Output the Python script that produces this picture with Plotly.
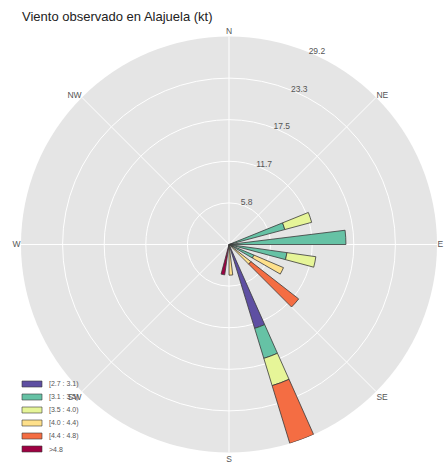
import numpy as np
import plotly.graph_objects as go

# Wind directions (degrees) that have observations
directions = [75, 90, 105, 120, 135, 163, 180, 195]

# Frequency stacked per speed bin (None = no data in that sector)
bin_labels = ["[2.7 : 3.1)", "[3.1 : 3.5)", "[3.5 : 4.0)", "[4.0 : 4.4)", "[4.4 : 4.8)", ">4.8"]
bin_colors = ["#5e4fa2", "#66c2a5", "#e6f598", "#fee08b", "#f46d43", "#9e0142"]

speed_27_31 = [None, None, None, None, None, 12.3, None, None]
speed_31_35 = [8.1, 16.4, 8.2, 3.8, None, 4.4, None, None]
speed_35_40 = [3.9, None, 4.1, None, None, 4.0, None, None]
speed_40_44 = [None, None, None, 4.5, 3.9, None, 4.3, None]
speed_44_48 = [None, None, None, None, 8.5, 8.47, None, None]
speed_gt_48 = [None, None, None, None, None, None, None, 4.3]

series = [speed_27_31, speed_31_35, speed_35_40, speed_40_44, speed_44_48, speed_gt_48]

compass_angles = [0, 45, 90, 135, 180, 225, 270, 315]
compass_labels = ["N", "NE", "E", "SE", "S", "SW", "W", "NW"]

title_text = "Viento observado en Alajuela (kt)"

W, H = 446, 466
BAR_W = 7.0
RING_LABEL_THETA = 25.0   # bearing along which the ring values are written

# radial extent = largest stacked total; five evenly spaced rings
totals = np.nansum(np.array([[np.nan if v is None else v for v in s] for s in series]), axis=0)
rmax = float(totals.max())
ring_vals = np.linspace(0, rmax, 6)[1:]
ring_text = [f"{v:.1f}" for v in ring_vals]

fig = go.Figure()
for vals, lab, col in zip(series, bin_labels, bin_colors):
    fig.add_trace(go.Barpolar(
        r=vals,
        theta=directions,
        width=BAR_W,
        offset=-BAR_W,
        name=lab,
        marker=dict(color=col, line=dict(color="#3a3a3a", width=0.8)),
        showlegend=False,
    ))

# ring value labels, written just above each ring
fig.add_trace(go.Scatterpolar(
    r=ring_vals,
    theta=[RING_LABEL_THETA] * len(ring_vals),
    text=ring_text,
    mode="text",
    textposition="top center",
    textfont=dict(size=8.5, color="#555"),
    cliponaxis=False,
    hoverinfo="skip",
    showlegend=False,
))

def px_x(x):
    return x / W

def px_y(y):
    return 1 - y / H

cx, cy, rad = 229, 244.5, 208

fig.update_layout(
    width=W, height=H,
    margin=dict(l=0, r=0, t=0, b=0),
    paper_bgcolor="white",
    font=dict(family="Liberation Sans, Arial, sans-serif", color="#555"),
    polar=dict(
        domain=dict(x=[px_x(cx - rad), px_x(cx + rad)], y=[px_y(cy + rad), px_y(cy - rad)]),
        bgcolor="#e5e5e5",
        barmode="stack",
        angularaxis=dict(
            rotation=90, direction="clockwise",
            tickmode="array", tickvals=compass_angles, ticktext=compass_labels,
            showgrid=True, gridcolor="white", gridwidth=1,
            showline=False, ticks="",
            tickfont=dict(size=8.5, color="#555"),
        ),
        radialaxis=dict(
            range=[0, rmax * 1.000001],
            tickmode="array", tickvals=list(ring_vals), ticktext=ring_text,
            showgrid=True, gridcolor="white", gridwidth=1,
            showline=False, ticks="", showticklabels=False,
        ),
    ),
)

# title
fig.add_annotation(
    text=title_text, xref="paper", yref="paper",
    x=px_x(20), y=px_y(16), xanchor="left", yanchor="middle",
    showarrow=False, font=dict(size=13, color="#222"),
)

# speed-bin key in the lower-left corner
row0, step = 384, 13
for i, (lab, col) in enumerate(zip(bin_labels, bin_colors)):
    yc = row0 + i * step
    fig.add_shape(
        type="rect", xref="paper", yref="paper",
        x0=px_x(22), x1=px_x(42), y0=px_y(yc + 3), y1=px_y(yc - 3),
        fillcolor=col, line=dict(color="#3a3a3a", width=0.6),
    )
    fig.add_annotation(
        text=lab, xref="paper", yref="paper",
        x=px_x(47), y=px_y(yc), xanchor="left", yanchor="middle",
        showarrow=False, font=dict(size=7, color="#555"),
    )

fig.write_html("out.html")
